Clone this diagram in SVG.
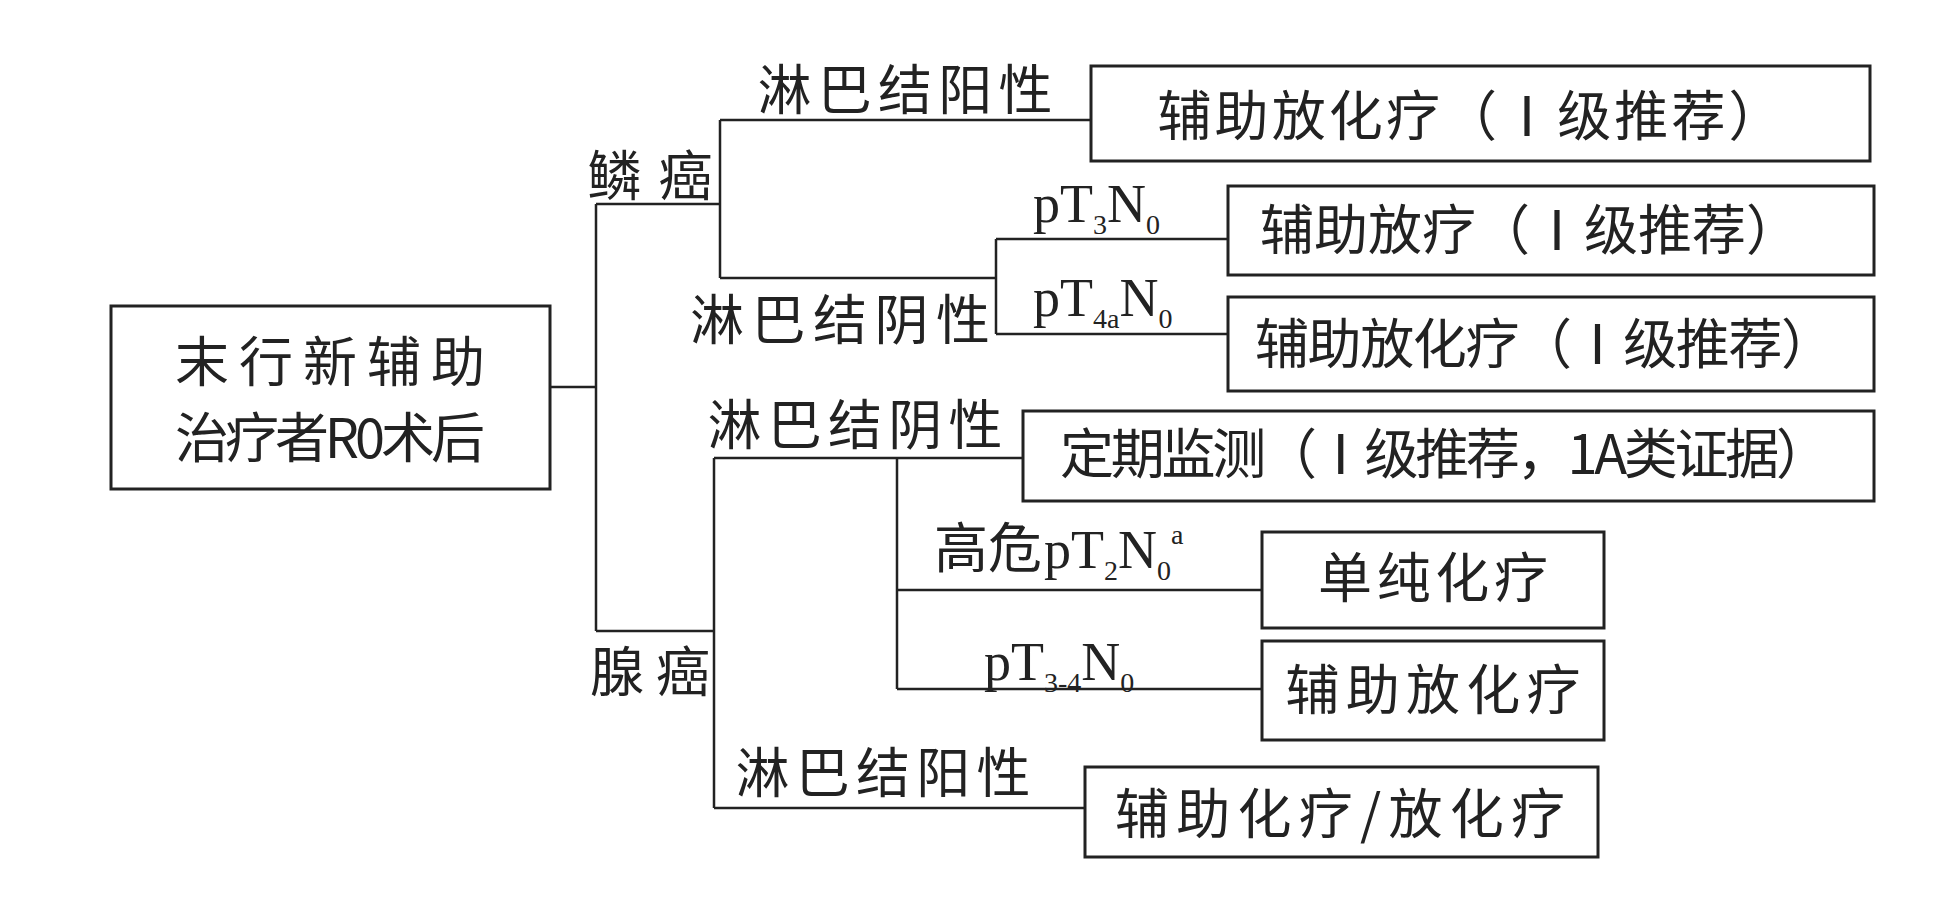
<svg xmlns="http://www.w3.org/2000/svg" width="1940" height="902" viewBox="0 0 1940 902">
<style>
.b{fill:#fff;stroke:#222;stroke-width:3}
.l{fill:none;stroke:#222;stroke-width:2.5}
.t{font-family:"Noto Sans CJK SC",sans-serif;font-size:54px;fill:#222;text-anchor:middle}
.s{font-family:"Liberation Serif","Noto Sans CJK SC",serif;font-size:54px;fill:#222}
.sub{font-size:28px}
</style>
<rect width="1940" height="902" fill="#fff"/>
<g id="connectors" class="l">
<path d="M550 387H596M596 204V631M596 204H720M720 120V278M720 120H1091M720 278H996M996 239V334M996 239H1228M996 334H1228M596 631H714M714 458V808M714 458H1023M897 458V689M897 590H1262M897 689H1262M714 808H1085"/>
</g>
<g id="root"><rect class="b" x="111" y="306" width="439" height="183"/>
<text class="t" x="330" y="382" textLength="310">末行新辅助</text>
<text class="t" x="330" y="458" textLength="310">治疗者R0术后</text></g>
<g id="lbl-scc"><text class="t" x="650" y="196" textLength="125">鳞癌</text></g>
<g id="lbl-adeno"><text class="t" x="650" y="692" textLength="120">腺癌</text></g>
<g id="lbl1"><text class="t" x="905" y="110" textLength="295">淋巴结阳性</text></g>
<g id="box1"><rect class="b" x="1091" y="66" width="779" height="95"/>
<text class="t" x="1470" y="136" textLength="625">辅助放化疗（Ⅰ级推荐）</text></g>
<g id="lbl2"><text class="t" x="840" y="340" textLength="300">淋巴结阴性</text></g>
<g id="lbl3"><text class="s" x="1033" y="222">pT<tspan class="sub" dy="12">3</tspan><tspan dy="-12">N</tspan><tspan class="sub" dy="12">0</tspan></text></g>
<g id="box2"><rect class="b" x="1228" y="186" width="646" height="89"/>
<text class="t" x="1530" y="250" textLength="540">辅助放疗（Ⅰ级推荐）</text></g>
<g id="lbl4"><text class="s" x="1033" y="316">pT<tspan class="sub" dy="12">4a</tspan><tspan dy="-12">N</tspan><tspan class="sub" dy="12">0</tspan></text></g>
<g id="box3"><rect class="b" x="1228" y="297" width="646" height="94"/>
<text class="t" x="1545" y="364" textLength="580">辅助放化疗（Ⅰ级推荐）</text></g>
<g id="lbl5"><text class="t" x="855" y="445" textLength="295">淋巴结阴性</text></g>
<g id="box4"><rect class="b" x="1023" y="411" width="851" height="90"/>
<text class="t" x="1445" y="474" textLength="770">定期监测（Ⅰ级推荐，1A类证据）</text></g>
<g id="lbl6"><text class="t" x="934" y="568" style="text-anchor:start" textLength="108">高危</text><text class="s" x="1044" y="568">pT<tspan class="sub" dy="12">2</tspan><tspan dy="-12">N</tspan><tspan class="sub" dy="12">0</tspan><tspan class="sub" dy="-36">a</tspan></text></g>
<g id="box5"><rect class="b" x="1262" y="532" width="342" height="96"/>
<text class="t" x="1433" y="598" textLength="230">单纯化疗</text></g>
<g id="lbl7"><text class="s" x="984" y="680">pT<tspan class="sub" dy="12">3-4</tspan><tspan dy="-12">N</tspan><tspan class="sub" dy="12">0</tspan></text></g>
<g id="box6"><rect class="b" x="1262" y="641" width="342" height="99"/>
<text class="t" x="1433" y="710" textLength="295">辅助放化疗</text></g>
<g id="lbl8"><text class="t" x="883" y="793" textLength="295">淋巴结阳性</text></g>
<g id="box7"><rect class="b" x="1085" y="767" width="513" height="90"/>
<text class="t" x="1340" y="834" textLength="450">辅助化疗/放化疗</text></g>
</svg>
